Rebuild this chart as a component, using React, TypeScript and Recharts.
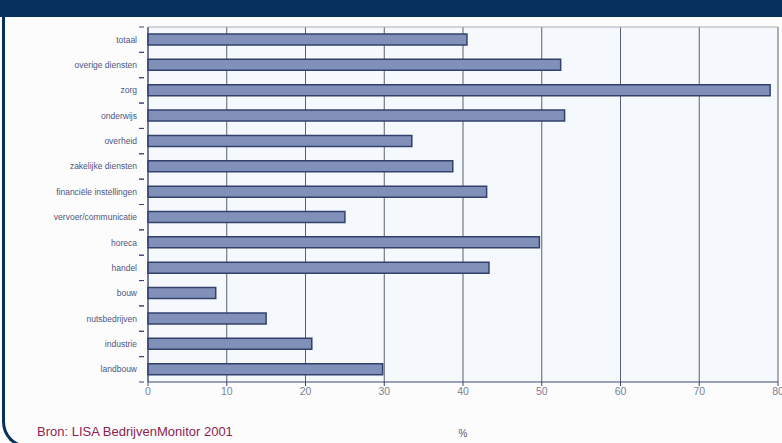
import { Bar, BarChart, CartesianGrid, Label, XAxis, YAxis } from "recharts";

const sectors = [
  "totaal",
  "overige diensten",
  "zorg",
  "onderwijs",
  "overheid",
  "zakelijke diensten",
  "financiële instellingen",
  "vervoer/communicatie",
  "horeca",
  "handel",
  "bouw",
  "nutsbedrijven",
  "industrie",
  "landbouw",
];
const shares = [40.5, 52.4, 79.0, 52.9, 33.5, 38.7, 43.0, 25.0, 49.7, 43.3, 8.6, 15.0, 20.8, 29.8];
const xTicks = [0, 10, 20, 30, 40, 50, 60, 70, 80];

const data = sectors.map((name, i) => ({ name, value: shares[i] }));

const NAVY = "#07305f";
const BAND = 355 / sectors.length;

function SectorTick(props: any) {
  const { x, y, payload } = props;
  return (
    <g>
      <line x1={x - 1} x2={x + 4} y1={y - BAND / 2} y2={y - BAND / 2} stroke="#3a4670" strokeWidth={1} />
      <line x1={x - 1} x2={x + 4} y1={y + BAND / 2} y2={y + BAND / 2} stroke="#3a4670" strokeWidth={1} />
      <text x={x - 3} y={y} dy={3} textAnchor="end" fontSize={8.5} fill="#4c5680" fontFamily="Liberation Sans, Arial, sans-serif">
        {payload.value}
      </text>
    </g>
  );
}

export default function App() {
  return (
    <div
      style={{
        position: "absolute",
        left: 0,
        top: 0,
        width: 782,
        height: 443,
        overflow: "hidden",
        background: "#fcfcfd",
        fontFamily: "Liberation Sans, Arial, sans-serif",
      }}
    >
      <div style={{ position: "absolute", left: 0, top: 0, width: 782, height: 17, background: NAVY }} />
      <div
        style={{
          position: "absolute",
          left: 2,
          top: 8,
          width: 820,
          height: 437,
          borderLeft: `3px solid ${NAVY}`,
          borderBottom: `3px solid ${NAVY}`,
          borderBottomLeftRadius: 26,
        }}
      />
      <div style={{ position: "absolute", left: 0, top: 0 }}>
        <BarChart
          width={782}
          height={443}
          layout="vertical"
          data={data}
          margin={{ top: 27, right: 4, left: 0, bottom: 0 }}
          barCategoryGap={7}
        >
          <CartesianGrid horizontal={false} stroke="#5a6072" fill="#f5f8fc" />
          <CartesianGrid vertical={false} horizontalPoints={[27]} stroke="#a9adb8" />
          <XAxis
            type="number"
            domain={[0, 80]}
            ticks={xTicks}
            height={61}
            tick={{ fill: "#7c8294", fontSize: 10.5 }}
            tickSize={4}
            stroke="#3a4670"
            interval={0}
          >
            <Label value="%" position="insideBottom" offset={6} fill="#555b6a" fontSize={10} />
          </XAxis>
          <YAxis
            type="category"
            dataKey="name"
            width={148}
            tick={<SectorTick />}
            tickLine={false}
            stroke="#3a4670"
            interval={0}
          />
          <Bar dataKey="value" fill="#8090b8" stroke="#33406c" strokeWidth={1.5} barSize={11} isAnimationActive={false} />
        </BarChart>
      </div>
      <div style={{ position: "absolute", left: 37, top: 424, fontSize: 13, color: "#8c1d4e" }}>
        Bron: LISA BedrijvenMonitor 2001
      </div>
    </div>
  );
}
